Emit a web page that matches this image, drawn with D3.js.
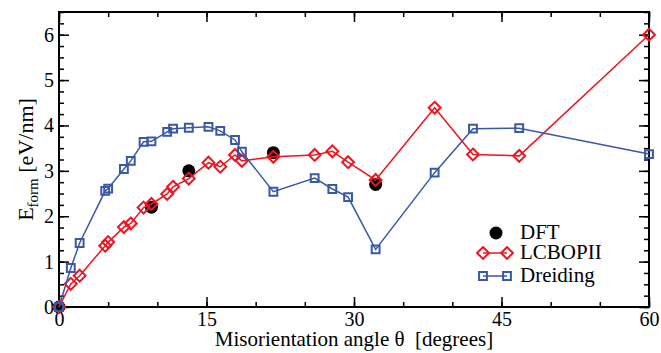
<!DOCTYPE html>
<html>
<head>
<meta charset="utf-8">
<script src="https://cdn.jsdelivr.net/npm/d3@7"></script>
<style>
  body { margin: 0; background: #fff; }
  text, tspan { font-family: "Liberation Serif" !important; }
</style>
</head>
<body>
<svg id="chart" width="661" height="353" font-family="Liberation Serif"></svg>
<script>
// misorientation angles (degrees) shared by both potentials
let angles = [0, 1.2, 2.1, 4.7, 5.0, 6.6, 7.3, 8.6, 9.4, 11.0, 11.6, 13.2, 15.2, 16.4, 17.9, 18.6, 21.8, 26.0, 27.8, 29.4, 32.2, 38.2, 42.1, 46.8, 60];
let lcbop = [0, 0.51, 0.69, 1.35, 1.43, 1.76, 1.84, 2.19, 2.27, 2.49, 2.65, 2.83, 3.18, 3.09, 3.35, 3.22, 3.31, 3.35, 3.43, 3.19, 2.80, 4.39, 3.36, 3.33, 6.0];
let dreiding = [0, 0.86, 1.41, 2.56, 2.61, 3.04, 3.22, 3.64, 3.65, 3.86, 3.93, 3.95, 3.97, 3.88, 3.68, 3.42, 2.54, 2.84, 2.60, 2.42, 1.27, 2.96, 3.93, 3.94, 3.37];

let dftAngles = [0, 9.4, 13.2, 21.8, 32.2];
let dft = [0, 2.2, 3.0, 3.4, 2.7];

let xTicks = [0, 15, 30, 45, 60];
let yTicks = [0, 1, 2, 3, 4, 5, 6];

let red = "#f0141e", blue = "#3a58a8";
let serif = "Liberation Serif";

let margin = {top: 12, right: 12, bottom: 46, left: 59},
    width = 661 - margin.left - margin.right,
    height = 353 - margin.top - margin.bottom;

let svg = d3.select("#chart");
let chart = svg.append("g")
    .attr("transform", "translate(" + margin.left + "," + margin.top + ")");

let xScale = d3.scaleLinear().domain([0, 60]).range([0, width]);
let yScale = d3.scaleLinear().domain([0, 6.5]).range([height, 0]);

let xMinor = d3.range(0, 61, 5);
let yMinor = d3.range(0, 6.51, 0.25);

function styleAxis(g) {
    g.attr("font-family", serif).attr("font-size", 20);
    g.select(".domain").remove();
    g.selectAll("line").attr("stroke", "#000").attr("stroke-width", 1.5);
    g.selectAll("text").attr("font-family", serif).style("font-size", "20px").attr("fill", "#000");
}

// minor ticks, all four sides, pointing inward
chart.append("g").attr("transform", "translate(0," + height + ")")
    .call(d3.axisBottom(xScale).tickValues(xMinor).tickSize(-5).tickFormat("")).call(styleAxis);
chart.append("g")
    .call(d3.axisTop(xScale).tickValues(xMinor).tickSize(-5).tickFormat("")).call(styleAxis);
chart.append("g")
    .call(d3.axisLeft(yScale).tickValues(yMinor).tickSize(-5).tickFormat("")).call(styleAxis);
chart.append("g").attr("transform", "translate(" + width + ",0)")
    .call(d3.axisRight(yScale).tickValues(yMinor).tickSize(-5).tickFormat("")).call(styleAxis);

// major ticks with labels
chart.append("g").attr("transform", "translate(0," + height + ")")
    .call(d3.axisBottom(xScale).tickValues(xTicks).tickSize(-10).tickPadding(5).tickFormat(d3.format("d"))).call(styleAxis);
chart.append("g")
    .call(d3.axisTop(xScale).tickValues(xTicks).tickSize(-10).tickFormat("")).call(styleAxis);
chart.append("g")
    .call(d3.axisLeft(yScale).tickValues(yTicks).tickSize(-10).tickPadding(5).tickFormat(d3.format("d"))).call(styleAxis);
chart.append("g").attr("transform", "translate(" + width + ",0)")
    .call(d3.axisRight(yScale).tickValues(yTicks).tickSize(-10).tickFormat("")).call(styleAxis);

// frame
chart.append("rect")
    .attr("width", width).attr("height", height)
    .attr("fill", "none").attr("stroke", "#000").attr("stroke-width", 2);

let diamond = d3.symbol().type(d3.symbolDiamond2).size(90);
let square = d3.symbol().type(d3.symbolSquare2).size(78);

let line = d3.line().x(d => xScale(d[0])).y(d => yScale(d[1]));

// DFT
chart.selectAll(".dft")
    .data(dftAngles.map((a, i) => [a, dft[i]]))
    .join("circle")
    .attr("class", "dft")
    .attr("cx", d => xScale(d[0]))
    .attr("cy", d => yScale(d[1]))
    .attr("r", 6.5)
    .attr("fill", "#000");

function drawSeries(values, color, sym, cls) {
    let pts = angles.map((a, i) => [a, values[i]]);
    chart.append("path")
        .datum(pts)
        .attr("d", line)
        .attr("fill", "none")
        .attr("stroke", color)
        .attr("stroke-width", 1.5);
    chart.selectAll("." + cls)
        .data(pts)
        .join("path")
        .attr("class", cls)
        .attr("d", sym)
        .attr("transform", d => "translate(" + xScale(d[0]) + "," + yScale(d[1]) + ")")
        .attr("fill", "none")
        .attr("stroke", color)
        .attr("stroke-width", 2);
}

drawSeries(lcbop, red, diamond, "lcbop");
drawSeries(dreiding, blue, square, "dreid");

// legend
let legend = svg.append("g").attr("transform", "translate(483,233)");
legend.append("circle").attr("cx", 13).attr("cy", 0).attr("r", 6.5).attr("fill", "#000");
legend.append("text").attr("x", 37).attr("y", 6)
    .attr("font-family", serif).style("font-size", "21px").text("DFT");

let legendSeries = [["LCBOPII", red, diamond], ["Dreiding", blue, square]];
legendSeries.forEach(function(s, i) {
    let y = 20 + i * 23;
    legend.append("line").attr("x1", 0).attr("x2", 24).attr("y1", y).attr("y2", y)
        .attr("stroke", s[1]).attr("stroke-width", 1.5);
    [0, 24].forEach(function(x) {
        legend.append("path").attr("d", s[2])
            .attr("transform", "translate(" + x + "," + y + ")")
            .attr("fill", "none").attr("stroke", s[1]).attr("stroke-width", 2);
    });
    legend.append("text").attr("x", 37).attr("y", y + 6)
        .attr("font-family", serif).style("font-size", "21px").text(s[0]);
});

// axis titles
svg.append("text")
    .attr("x", margin.left + width / 2)
    .attr("y", 346)
    .attr("text-anchor", "middle")
    .attr("font-family", serif)
    .style("font-size", "21px")
    .style("white-space", "pre")
    .text("Misorientation angle \u03b8  [degrees]");

let ylab = svg.append("text")
    .attr("transform", "translate(33," + (margin.top + height / 2) + ") rotate(-90)")
    .attr("text-anchor", "middle")
    .attr("font-family", serif)
    .style("font-size", "22px");
ylab.append("tspan").text("E");
ylab.append("tspan").attr("dy", 5).style("font-size", "15px").text("form");
ylab.append("tspan").attr("dy", -5).text(" [eV/nm]");
</script>
</body>
</html>
